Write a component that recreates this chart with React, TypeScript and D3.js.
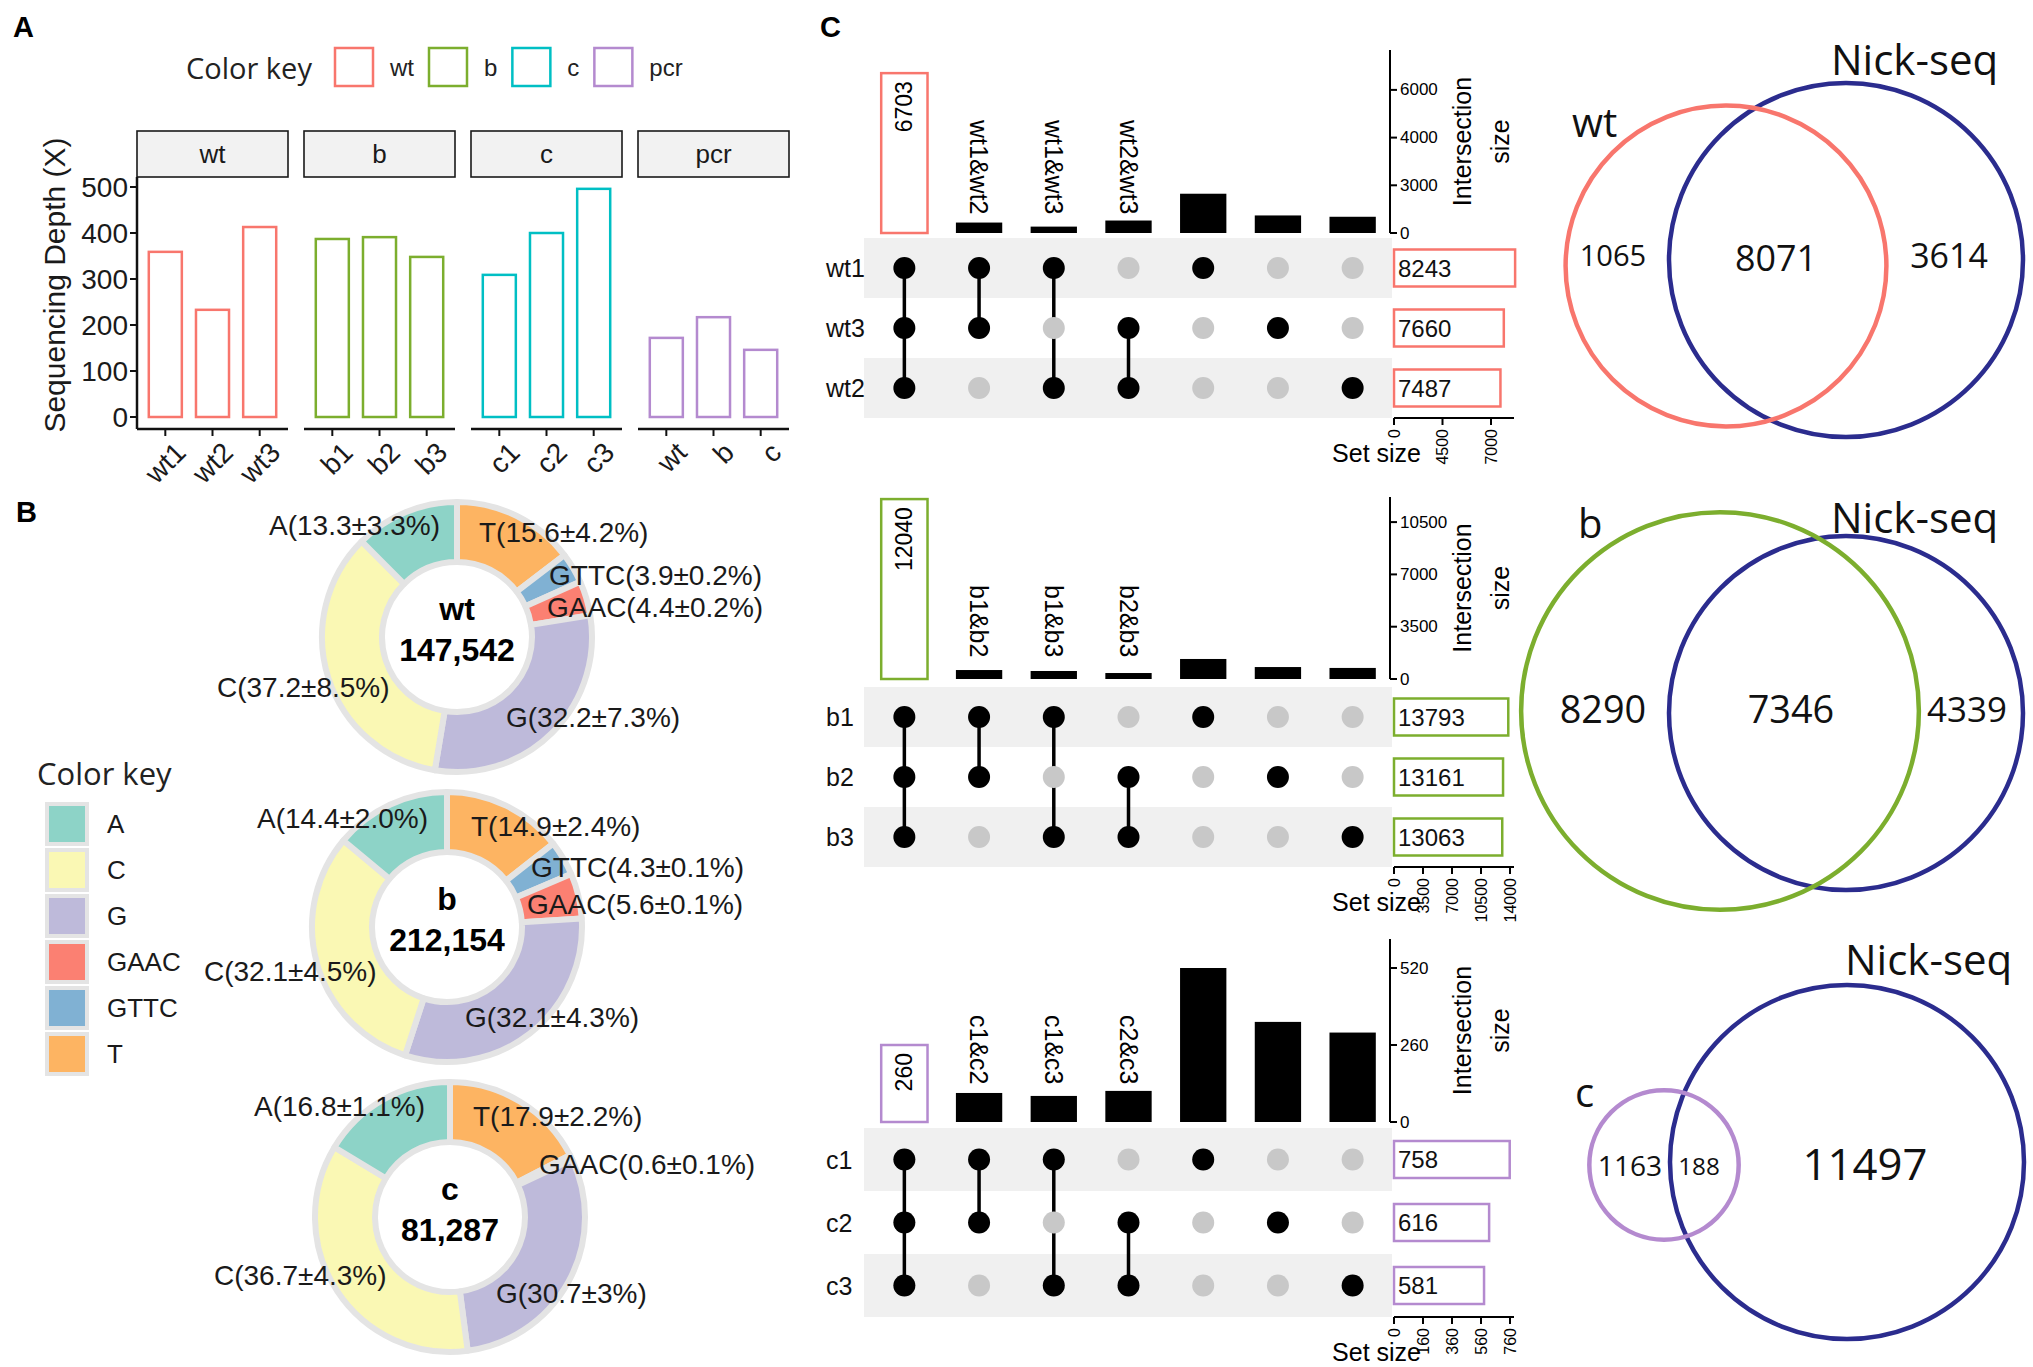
import React, { useEffect, useRef } from "react";
import * as d3 from "d3";

const W = 2033;
const H = 1367;
const SANS = "'Liberation Sans', Arial, Helvetica, sans-serif";
const SOFT = "'Open Sans', 'Liberation Sans', sans-serif";

// ---- A: sequencing depth ----
const depthFacets = ["wt", "b", "c", "pcr"];
const depthSamples = [
  ["wt1", "wt2", "wt3"],
  ["b1", "b2", "b3"],
  ["c1", "c2", "c3"],
  ["wt", "b", "c"],
];
const depthValues = [
  [359, 233, 413],
  [387, 391, 348],
  [309, 400, 496],
  [172, 217, 146],
];
const depthTicks = [0, 100, 200, 300, 400, 500];
const groupColors = ["#F8766D", "#7CAE2E", "#00BFC4", "#B48ACF"];

// ---- B: base composition donuts ----
const baseKeys = ["A", "C", "G", "GAAC", "GTTC", "T"];
const baseColors = ["#8DD3C7", "#FAF8B4", "#BEBADA", "#FB8072", "#80B1D3", "#FDB462"];
const donutGroups = ["wt", "b", "c"];
const donutTotals = ["147,542", "212,154", "81,287"];
const sliceOrder = ["T", "GTTC", "GAAC", "G", "C", "A"];
const wtShare = [15.6, 3.9, 4.4, 32.2, 37.2, 13.3];
const wtSd = ["4.2", "0.2", "0.2", "7.3", "8.5", "3.3"];
const bShare = [14.9, 4.3, 5.6, 32.1, 32.1, 14.4];
const bSd = ["2.4", "0.1", "0.1", "4.3", "4.5", "2.0"];
const cShare = [17.9, 0, 0.6, 30.7, 36.7, 16.8];
const cSd = ["2.2", "", "0.1", "3", "4.3", "1.1"];

// ---- C: upset plots ----
const upsetRows = [
  ["wt1", "wt3", "wt2"],
  ["b1", "b2", "b3"],
  ["c1", "c2", "c3"],
];
const upsetSetSizes = [
  [8243, 7660, 7487],
  [13793, 13161, 13063],
  [758, 616, 581],
];
const upsetMembers = [[0, 1, 2], [0, 1], [0, 2], [1, 2], [0], [1], [2]];
const upsetColLabels = [
  ["", "wt1&wt2", "wt1&wt3", "wt2&wt3", "", "", ""],
  ["", "b1&b2", "b1&b3", "b2&b3", "", "", ""],
  ["", "c1&c2", "c1&c3", "c2&c3", "", "", ""],
];
const upsetCounts = [
  [6703, 657, 402, 785, 2470, 1104, 1021],
  [12040, 600, 535, 400, 1340, 800, 740],
  [260, 98, 88, 105, 520, 338, 302],
];
const upsetCountTicks = [
  [0, 3000, 4000, 6000],
  [0, 3500, 7000, 10500],
  [0, 260, 520],
];
const upsetSizeTicks = [
  [0, 4500, 7000],
  [0, 3500, 7000, 10500, 14000],
  [0, 160, 360, 560, 760],
];
const setColors = ["#F8766D", "#7CAE2E", "#B48ACF"];

// ---- C: venn vs Nick-seq ----
const vennNames = ["wt", "b", "c"];
const vennOnlySet = [1065, 8290, 1163];
const vennShared = [8071, 7346, 188];
const vennOnlyNick = [3614, 4339, 11497];

// ---- layout (positions, not data) ----
const donutCenters = [[457, 637], [447, 927], [450, 1217]];
const donutLabelOffsets = [
  [[22, -105], [92, -62], [90, -30], [49, 80], [-240, 50], [-188, -112]],
  [[24, -101], [84, -60], [80, -23], [18, 90], [-243, 44], [-190, -109]],
  [[23, -101], [0, 0], [89, -53], [46, 76], [-236, 58], [-196, -111]],
];
const upsetFrames = [
  { top: 50, base: 233, step: 47.7, rowTop: 238, rowBottom: 418, labelTop: 120, sizeStep: 48.5 },
  { top: 497, base: 679, step: 52.3, rowTop: 687, rowBottom: 867, labelTop: 585, sizeStep: 29 },
  { top: 939, base: 1122, step: 77, rowTop: 1128, rowBottom: 1317, labelTop: 1015, sizeStep: 29 },
];
const vennFrames = [
  { set: [1726, 266], nick: [1846, 260], name: [1572, 137], nickLabel: [1831, 75], nums: [[1613, 255], [1776, 257], [1949, 255]], sizes: [30, 37, 35] },
  { set: [1720, 711], nick: [1846, 713], name: [1578, 538], nickLabel: [1831, 533], nums: [[1603, 708], [1791, 708], [1967, 708]], sizes: [39, 39, 36] },
  { set: [1664, 1165], nick: [1847, 1162], name: [1575, 1107], nickLabel: [1845, 975], nums: [[1630, 1165], [1699, 1165], [1865, 1163]], sizes: [29, 25, 45] },
];

function drawDepth(g: any) {
  // legend
  g.append("text").attr("x", 186).attr("y", 67).attr("dominant-baseline", "central")
    .attr("font-family", SOFT).attr("font-size", 29).attr("fill", "#222").text("Color key");
  let lx = 335;
  depthFacets.forEach((f, i) => {
    g.append("rect").attr("x", lx).attr("y", 48).attr("width", 38).attr("height", 38)
      .attr("fill", "#fff").attr("stroke", groupColors[i]).attr("stroke-width", 2.5);
    const t = g.append("text").attr("x", lx + 55).attr("y", 67).attr("dominant-baseline", "central")
      .attr("font-size", 24).attr("fill", "#222").text(f);
    lx += 55 + t.node().getComputedTextLength() + 15;
  });

  const fx = d3.scaleBand<string>().domain(depthFacets).range([137, 789]).paddingInner(16 / 167);
  const y = d3.scaleLinear().domain([0, 500]).range([417, 187]);
  const stripTop = 131, panelTop = 177, axisY = 429;

  depthFacets.forEach((f, i) => {
    const bw = fx.bandwidth();
    const fg = g.append("g").attr("transform", `translate(${fx(f)},0)`);
    fg.append("rect").attr("x", 0).attr("y", stripTop).attr("width", bw).attr("height", panelTop - stripTop)
      .attr("fill", "#f2f2f2").attr("stroke", "#1a1a1a").attr("stroke-width", 1.6);
    fg.append("text").attr("x", bw / 2).attr("y", (stripTop + panelTop) / 2).attr("text-anchor", "middle")
      .attr("dominant-baseline", "central").attr("font-size", 26).attr("fill", "#1a1a1a").text(f);

    const xs = d3.scaleBand<string>().domain(depthSamples[i]).range([0, bw]).paddingInner(0.3).paddingOuter(0.25);
    fg.selectAll("rect.bar").data(depthValues[i]).join("rect").attr("class", "bar")
      .attr("x", (_: number, j: number) => xs(depthSamples[i][j]))
      .attr("y", (d: number) => y(d))
      .attr("width", xs.bandwidth())
      .attr("height", (d: number) => y(0) - y(d))
      .attr("fill", "#fff").attr("stroke", groupColors[i]).attr("stroke-width", 2.5);

    fg.append("line").attr("x1", 0).attr("x2", bw).attr("y1", axisY).attr("y2", axisY)
      .attr("stroke", "#111").attr("stroke-width", 2.5);
    depthSamples[i].forEach((s) => {
      const cx = (xs(s) as number) + xs.bandwidth() / 2;
      fg.append("line").attr("x1", cx).attr("x2", cx).attr("y1", axisY).attr("y2", axisY + 7)
        .attr("stroke", "#111").attr("stroke-width", 2);
      fg.append("text").attr("transform", `translate(${cx + 8},${axisY + 11}) rotate(-45)`)
        .attr("text-anchor", "end").attr("dy", "0.72em").attr("font-size", 28).attr("fill", "#1a1a1a").text(s);
    });
  });

  // y axis
  g.append("line").attr("x1", 137).attr("x2", 137).attr("y1", panelTop).attr("y2", axisY)
    .attr("stroke", "#111").attr("stroke-width", 2.5);
  depthTicks.forEach((t) => {
    g.append("line").attr("x1", 130).attr("x2", 137).attr("y1", y(t)).attr("y2", y(t))
      .attr("stroke", "#111").attr("stroke-width", 2);
    g.append("text").attr("x", 128).attr("y", y(t)).attr("text-anchor", "end").attr("dominant-baseline", "central")
      .attr("font-size", 28).attr("fill", "#1a1a1a").text(t);
  });
  g.append("text").attr("transform", `translate(54,285) rotate(-90)`).attr("text-anchor", "middle")
    .attr("dominant-baseline", "central").attr("font-size", 30).attr("fill", "#1a1a1a").text("Sequencing Depth (X)");
}

function drawDonuts(g: any) {
  const pie = d3.pie<number>().sort(null).value((d) => d);
  const arc = d3.arc<d3.PieArcDatum<number>>().innerRadius(75).outerRadius(135);
  const color = d3.scaleOrdinal<string, string>().domain(baseKeys).range(baseColors);
  const shares = [wtShare, bShare, cShare];
  const sds = [wtSd, bSd, cSd];

  donutGroups.forEach((grp, gi) => {
    const [cx, cy] = donutCenters[gi];
    const dg = g.append("g").attr("transform", `translate(${cx},${cy})`);
    const arcs = pie(shares[gi]).filter((a) => a.data > 0);
    dg.selectAll("path").data(arcs).join("path")
      .attr("d", arc as any)
      .attr("fill", (d: any) => color(sliceOrder[d.index]))
      .attr("stroke", "#e4e4e4").attr("stroke-width", 6).attr("stroke-linejoin", "round");
    dg.append("text").attr("y", -28).attr("text-anchor", "middle").attr("dominant-baseline", "central")
      .attr("font-size", 32).attr("font-weight", "bold").text(grp);
    dg.append("text").attr("y", 13).attr("text-anchor", "middle").attr("dominant-baseline", "central")
      .attr("font-size", 32).attr("font-weight", "bold").text(donutTotals[gi]);
    shares[gi].forEach((v, k) => {
      if (v <= 0) return;
      const [dx, dy] = donutLabelOffsets[gi][k];
      dg.append("text").attr("x", dx).attr("y", dy).attr("dominant-baseline", "central")
        .attr("font-size", 28).attr("fill", "#1a1a1a").text(`${sliceOrder[k]}(${v}±${sds[gi][k]}%)`);
    });
  });

  // color key
  g.append("text").attr("x", 37).attr("y", 773).attr("dominant-baseline", "central")
    .attr("font-family", SOFT).attr("font-size", 31).attr("fill", "#222").text("Color key");
  const ky = d3.scaleBand<string>().domain(baseKeys).range([802, 802 + 46 * baseKeys.length]);
  baseKeys.forEach((k) => {
    const yy = ky(k) as number;
    g.append("rect").attr("x", 45).attr("y", yy).attr("width", 44).attr("height", 44).attr("fill", "#e4e4e4");
    g.append("rect").attr("x", 49).attr("y", yy + 4).attr("width", 36).attr("height", 36).attr("fill", color(k));
    g.append("text").attr("x", 107).attr("y", yy + 22).attr("dominant-baseline", "central")
      .attr("font-size", 26).attr("fill", "#1a1a1a").text(k);
  });
}

function drawUpsets(g: any) {
  const cols = d3.scaleBand<number>().domain(d3.range(upsetMembers.length)).range([867, 1390])
    .paddingInner(0.38).paddingOuter(0.19);
  const axisX = 1390, sizeX0 = 1394, sizeEnd = 1514;

  upsetRows.forEach((rows, pi) => {
    const fr = upsetFrames[pi];
    const ticks = upsetCountTicks[pi];
    const ys = d3.scaleLinear().domain(ticks).range(ticks.map((_, i) => fr.base - i * fr.step));
    const sTicks = upsetSizeTicks[pi];
    const xs = d3.scaleLinear().domain(sTicks).range(sTicks.map((_, i) => sizeX0 + i * fr.sizeStep));
    const ry = d3.scaleBand<number>().domain([0, 1, 2]).range([fr.rowTop, fr.rowBottom]);
    const rc = (r: number) => (ry(r) as number) + ry.bandwidth() / 2;
    const color = setColors[pi];

    // stripes
    [0, 2].forEach((r) => g.append("rect").attr("x", 864).attr("y", ry(r)).attr("width", axisX + 2 - 864)
      .attr("height", ry.bandwidth()).attr("fill", "#f0f0f0"));
    rows.forEach((name, r) => g.append("text").attr("x", 826).attr("y", rc(r)).attr("dominant-baseline", "central")
      .attr("font-size", 25).attr("fill", "#111").text(name));

    // intersection bars
    upsetCounts[pi].forEach((v, c) => {
      const x = cols(c) as number;
      const w = cols.bandwidth();
      if (c === 0) {
        g.append("rect").attr("x", x).attr("y", ys(v)).attr("width", w).attr("height", fr.base - ys(v))
          .attr("fill", "#fff").attr("stroke", color).attr("stroke-width", 2.5);
        g.append("text").attr("transform", `translate(${x + w / 2},${ys(v) + 8}) rotate(-90)`)
          .attr("text-anchor", "end").attr("dominant-baseline", "central").attr("font-size", 23).text(v);
      } else {
        g.append("rect").attr("x", x).attr("y", ys(v)).attr("width", w).attr("height", fr.base - ys(v)).attr("fill", "#000");
      }
      const lab = upsetColLabels[pi][c];
      if (lab) {
        g.append("text").attr("transform", `translate(${x + w / 2},${fr.labelTop}) rotate(90)`)
          .attr("dominant-baseline", "central").attr("font-size", 25).text(lab);
      }
    });

    // matrix
    upsetMembers.forEach((mem, c) => {
      const x = (cols(c) as number) + cols.bandwidth() / 2;
      if (mem.length > 1) {
        g.append("line").attr("x1", x).attr("x2", x).attr("y1", rc(d3.min(mem) as number)).attr("y2", rc(d3.max(mem) as number))
          .attr("stroke", "#000").attr("stroke-width", 3.5);
      }
      [0, 1, 2].forEach((r) => g.append("circle").attr("cx", x).attr("cy", rc(r)).attr("r", 11)
        .attr("fill", mem.includes(r) ? "#000" : "#c8c8c8"));
    });

    // intersection axis
    g.append("line").attr("x1", axisX).attr("x2", axisX).attr("y1", fr.top).attr("y2", fr.base)
      .attr("stroke", "#000").attr("stroke-width", 2);
    ticks.forEach((t) => {
      g.append("line").attr("x1", axisX).attr("x2", axisX + 7).attr("y1", ys(t)).attr("y2", ys(t))
        .attr("stroke", "#000").attr("stroke-width", 2);
      g.append("text").attr("x", axisX + 10).attr("y", ys(t)).attr("dominant-baseline", "central")
        .attr("font-size", 17).text(t);
    });
    const mid = (fr.top + fr.base) / 2;
    g.append("text").attr("transform", `translate(1462,${mid}) rotate(-90)`).attr("text-anchor", "middle")
      .attr("dominant-baseline", "central").attr("font-size", 25).text("Intersection");
    g.append("text").attr("transform", `translate(1500,${mid}) rotate(-90)`).attr("text-anchor", "middle")
      .attr("dominant-baseline", "central").attr("font-size", 25).text("size");

    // set size bars
    upsetSetSizes[pi].forEach((v, r) => {
      const yy = rc(r);
      g.append("rect").attr("x", sizeX0).attr("y", yy - 18.5).attr("width", xs(v) - sizeX0).attr("height", 37)
        .attr("fill", "#fff").attr("stroke", color).attr("stroke-width", 2.5);
      g.append("text").attr("x", sizeX0 + 4).attr("y", yy).attr("dominant-baseline", "central")
        .attr("font-size", 24).attr("fill", "#111").text(v);
    });
    const ay = fr.rowBottom;
    g.append("line").attr("x1", sizeX0).attr("x2", sizeEnd).attr("y1", ay).attr("y2", ay)
      .attr("stroke", "#000").attr("stroke-width", 2);
    sTicks.forEach((t) => {
      g.append("line").attr("x1", xs(t)).attr("x2", xs(t)).attr("y1", ay).attr("y2", ay + 7)
        .attr("stroke", "#000").attr("stroke-width", 2);
      g.append("text").attr("transform", `translate(${xs(t)},${ay + 11}) rotate(-90)`).attr("text-anchor", "end")
        .attr("dominant-baseline", "central").attr("font-size", 16).text(t);
    });
    g.append("text").attr("x", 1421).attr("y", ay + 35).attr("text-anchor", "end").attr("dominant-baseline", "central")
      .attr("font-size", 25).text("Set size");
  });
}

function drawVenns(g: any) {
  const nickTotals = vennShared.map((s, i) => s + vennOnlyNick[i]);
  const radius = d3.scalePow().exponent(0.4).domain([0, d3.max(nickTotals) as number]).range([0, 177]);
  vennNames.forEach((name, i) => {
    const fr = vennFrames[i];
    const setTotal = vennOnlySet[i] + vennShared[i];
    g.append("circle").attr("cx", fr.nick[0]).attr("cy", fr.nick[1]).attr("r", radius(nickTotals[i]))
      .attr("fill", "none").attr("stroke", "#2B2C8E").attr("stroke-width", 4.5);
    g.append("circle").attr("cx", fr.set[0]).attr("cy", fr.set[1]).attr("r", radius(setTotal))
      .attr("fill", "none").attr("stroke", setColors[i]).attr("stroke-width", 4.5);
    g.append("text").attr("x", fr.name[0]).attr("y", fr.name[1]).attr("font-family", SOFT)
      .attr("font-size", 40).attr("fill", "#111").text(name);
    g.append("text").attr("x", fr.nickLabel[0]).attr("y", fr.nickLabel[1]).attr("font-family", SOFT)
      .attr("font-size", 42).attr("fill", "#111").text("Nick-seq");
    [vennOnlySet[i], vennShared[i], vennOnlyNick[i]].forEach((v, k) => {
      g.append("text").attr("x", fr.nums[k][0]).attr("y", fr.nums[k][1]).attr("text-anchor", "middle")
        .attr("dominant-baseline", "central").attr("font-family", SOFT).attr("font-size", fr.sizes[k] * 0.97)
        .attr("fill", "#111").text(v);
    });
  });
}

export default function App() {
  const ref = useRef<SVGSVGElement | null>(null);

  useEffect(() => {
    const svg = d3.select(ref.current);
    svg.selectAll("*").remove();
    svg.attr("font-family", SANS);
    svg.append("rect").attr("width", W).attr("height", H).attr("fill", "#fff");

    const letters: [string, number, number][] = [["A", 13, 37], ["B", 16, 522], ["C", 820, 37]];
    letters.forEach(([t, x, y]) => svg.append("text").attr("x", x).attr("y", y)
      .attr("font-size", 29).attr("font-weight", "bold").text(t));

    drawDepth(svg.append("g"));
    drawDonuts(svg.append("g"));
    drawUpsets(svg.append("g"));
    drawVenns(svg.append("g"));
  }, []);

  return (
    <svg ref={ref} width={W} height={H} style={{ position: "absolute", left: 0, top: 0, display: "block" }} />
  );
}
